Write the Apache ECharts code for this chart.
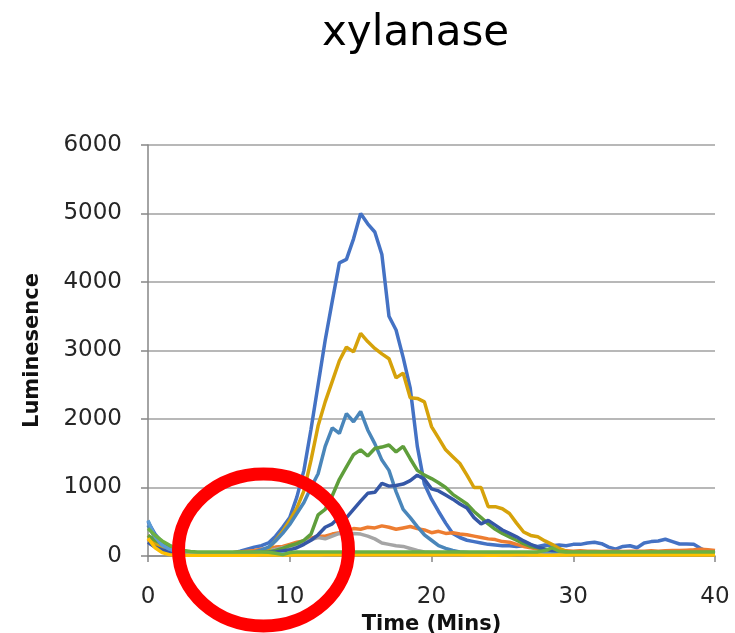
<!DOCTYPE html>
<html>
<head>
<meta charset="utf-8">
<script src="https://cdn.jsdelivr.net/npm/echarts@6/dist/echarts.min.js"></script>
<style>
html,body{margin:0;padding:0;background:#fff;}
#chart{width:735px;height:633px;}
</style>
</head>
<body>
<div id="chart"></div>
<script>
const titleText = 'xylanase';
const xName = 'Time (Mins)';
const yName = 'Luminesence';
const xTicks = [0, 10, 20, 30, 40];
const yTicks = [0, 1000, 2000, 3000, 4000, 5000, 6000];

const times = [0,0.5,1,1.5,2,2.5,3,3.5,4,4.5,5,5.5,6,6.5,7,7.5,8,8.5,9,9.5,10,10.5,11,11.5,12,12.5,13,13.5,14,14.5,15,15.5,16,16.5,17,17.5,18,18.5,19,19.5,20,20.5,21,21.5,22,22.5,23,23.5,24,24.5,25,25.5,26,26.5,27,27.5,28,28.5,29,29.5,30,30.5,31,31.5,32,32.5,33,33.5,34,34.5,35,35.5,36,36.5,37,37.5,38,38.5,39,39.5,40];

const seriesBlue = [500,320,200,130,90,70,55,45,40,40,40,40,45,70,100,130,150,190,290,420,560,860,1250,1850,2500,3150,3720,4280,4330,4630,5000,4850,4730,4400,3500,3300,2900,2450,1600,1050,830,650,480,330,270,230,210,190,170,160,150,150,140,150,150,140,160,150,160,150,170,170,190,200,180,130,100,140,150,120,190,210,220,245,210,175,175,170,110,60,40];
const seriesOrange = [250,150,100,70,55,50,45,45,45,45,45,45,50,60,70,80,100,110,130,140,170,200,220,260,290,290,320,340,370,400,390,420,410,440,420,390,410,430,400,380,340,360,330,340,320,310,290,270,250,240,210,200,170,140,120,100,90,80,80,75,70,75,70,70,65,70,70,65,70,70,70,75,70,75,80,80,85,90,100,90,80];
const seriesGray = [200,130,90,65,50,45,40,40,40,40,40,40,45,45,50,55,70,80,100,120,140,170,200,240,270,250,290,330,320,330,320,290,250,190,170,150,140,110,80,60,50,50,45,45,40,40,40,40,40,40,40,40,40,40,40,40,40,40,40,40,40,40,40,40,40,40,40,40,40,40,40,40,40,40,40,40,40,40,40,40,40];
const seriesGold = [300,180,100,60,35,25,20,20,20,25,25,30,30,35,40,60,80,100,230,360,520,700,950,1400,1900,2250,2550,2850,3050,2980,3250,3130,3030,2950,2880,2600,2670,2310,2300,2250,1890,1720,1550,1450,1350,1180,1000,1000,720,720,690,620,480,350,300,280,220,170,110,70,40,30,25,20,20,20,25,20,20,20,20,20,20,25,20,20,20,20,20,20,20];
const seriesSteel = [450,260,160,100,70,55,45,40,40,40,40,40,40,40,40,60,90,130,220,330,460,620,780,1000,1200,1600,1870,1790,2080,1960,2110,1840,1640,1400,1250,940,680,560,430,310,230,150,110,80,60,50,40,40,35,35,30,30,30,30,30,30,30,30,30,30,30,30,30,30,30,30,30,30,30,30,30,30,30,30,30,30,30,30,30,30,30];
const seriesGreen = [300,230,170,120,90,70,55,45,40,40,40,40,40,40,45,45,50,60,80,110,150,180,230,320,600,680,880,1120,1300,1480,1550,1460,1570,1590,1620,1520,1600,1420,1250,1180,1130,1070,1000,900,830,760,650,560,470,390,330,280,230,180,140,120,100,80,60,50,50,50,50,50,50,50,50,50,50,50,50,50,50,50,50,50,50,50,50,50,50];
const seriesNavy = [200,130,90,60,45,40,40,40,40,40,40,40,40,40,40,45,50,55,60,75,90,120,170,230,310,420,470,570,560,680,800,915,930,1060,1020,1030,1050,1100,1180,1120,980,950,890,830,760,700,560,470,520,450,380,330,280,220,170,130,100,80,60,50,40,40,40,40,40,40,40,40,40,40,40,40,40,40,40,40,40,40,40,40,40];
const seriesLightBlue = [520,280,160,100,65,45,35,30,30,30,30,30,30,30,30,30,30,30,30,30,30,30,30,30,30,30,30,30,30,30,30,30,30,30,30,30,30,30,30,30,30,30,30,25,25,25,25,25,25,25,25,25,25,25,25,25,25,25,25,25,25,25,25,25,25,25,25,25,25,25,25,25,25,25,25,25,25,25,25,25,25];
const seriesYellow = [260,120,50,20,10,10,10,10,10,10,10,10,10,10,10,10,15,15,15,15,15,15,15,15,15,20,20,20,20,20,20,20,20,20,20,20,20,20,20,20,20,20,20,20,20,15,15,15,10,10,15,15,20,20,15,15,10,10,15,15,20,20,20,20,20,20,20,20,20,20,20,20,20,20,20,20,20,20,20,20,20];
const seriesLime = [400,300,220,160,110,80,65,60,60,60,60,60,60,60,60,60,60,55,40,20,50,60,60,60,60,60,60,60,60,60,60,60,60,60,60,60,60,60,60,60,60,60,60,60,60,60,60,60,60,60,60,60,60,60,60,60,80,120,70,60,60,60,60,60,60,60,60,60,60,60,60,60,60,60,60,60,60,60,60,60,60];

const seriesDefs = [
  {name:'Blue', data: seriesBlue, color:'#4472C4'},
  {name:'Orange', data: seriesOrange, color:'#ED7D31'},
  {name:'Gray', data: seriesGray, color:'#A5A5A5'},
  {name:'Gold', data: seriesGold, color:'#D6A20A'},
  {name:'Steel', data: seriesSteel, color:'#4A86BA'},
  {name:'Green', data: seriesGreen, color:'#5F9E3B'},
  {name:'Navy', data: seriesNavy, color:'#3557A6'},
  {name:'LightBlue', data: seriesLightBlue, color:'#5B9BD5'},
  {name:'Yellow', data: seriesYellow, color:'#FFC000'},
  {name:'Lime', data: seriesLime, color:'#6CB042'}
];

const chart = echarts.init(document.getElementById('chart'));
const font = 'DejaVu Sans';
chart.setOption({
  animation: false,
  backgroundColor: '#ffffff',
  title: {
    text: titleText,
    left: 317,
    top: 8,
    textStyle: {fontFamily: font, fontSize: 42, fontWeight: 'normal', color: '#000'}
  },
  grid: {left: 148, right: 20, top: 145, bottom: 77, containLabel: false, outerBoundsMode: 'none'},
  xAxis: {
    type: 'value', min: xTicks[0], max: xTicks[xTicks.length-1], interval: 10,
    name: xName, nameLocation: 'middle', nameGap: 50,
    nameTextStyle: {fontFamily: font, fontSize: 21, fontWeight: 'bold', color: '#111'},
    axisLine: {show: true, lineStyle: {color: '#868686', width: 1.5}},
    axisTick: {show: true, length: 6, lineStyle: {color: '#868686', width: 1.5}},
    axisLabel: {fontFamily: font, fontSize: 23, color: '#262626', margin: 30, formatter: v => String(v)},
    splitLine: {show: false}
  },
  yAxis: {
    type: 'value', min: yTicks[0], max: yTicks[yTicks.length-1], interval: 1000,
    name: yName, nameLocation: 'middle', nameGap: 105, nameRotate: 90,
    nameTextStyle: {fontFamily: font, fontSize: 21, fontWeight: 'bold', color: '#111'},
    axisLine: {show: true, lineStyle: {color: '#868686', width: 1.5}},
    axisTick: {show: true, length: 7, lineStyle: {color: '#868686', width: 1.5}},
    axisLabel: {fontFamily: font, fontSize: 23, color: '#262626', margin: 26, formatter: v => String(v)},
    splitLine: {show: true, lineStyle: {color: '#A0A0A0', width: 1.5}}
  },
  series: seriesDefs.map(s => ({
    name: s.name,
    type: 'line',
    data: times.map((t, i) => [t, s.data[i]]),
    showSymbol: false,
    symbol: 'none',
    lineStyle: {color: s.color, width: 3.5},
    itemStyle: {color: s.color}
  })),
  graphic: [{
    type: 'ellipse',
    shape: {cx: 263.5, cy: 550, rx: 85, ry: 76},
    style: {fill: 'none', stroke: '#FF0000', lineWidth: 13},
    z: 100
  }]
});
</script>
</body>
</html>
